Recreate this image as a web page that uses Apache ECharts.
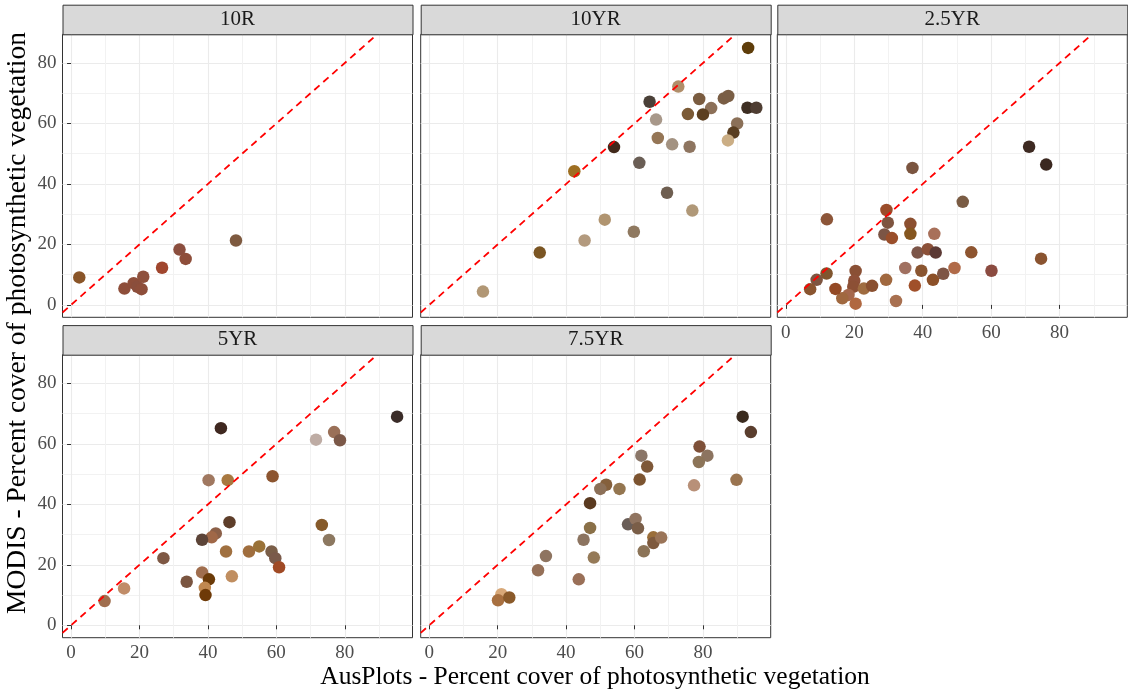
<!DOCTYPE html>
<html>
<head>
<meta charset="utf-8">
<script src="https://cdn.jsdelivr.net/npm/echarts@6/dist/echarts.min.js"></script>
<style>
  html, body { margin: 0; padding: 0; background: #fff; }
  #chart { width: 1128px; height: 697px; }
</style>
</head>
<body>
<div id="chart"></div>
<script>
// facet labels (Munsell hue)
const panels = ['10R', '10YR', '2.5YR', '5YR', '7.5YR']

// axis ranges and breaks
const X_MIN = -2.5, X_MAX = 99.8
const Y_MIN = -4.1, Y_MAX = 89.5
const majorBreaks = [0, 20, 40, 60, 80]
const minorBreaks = [10, 30, 50, 70, 90]

// AusPlots (x), MODIS (y), munsell colour per site
const x10R = [2.4, 15.6, 18.3, 19.4, 20.6, 21.1, 26.6, 31.7, 33.5, 48.2]
const y10R = [9.1, 5.4, 7.2, 6.0, 5.2, 9.3, 12.3, 18.3, 15.2, 21.3]
const c10R = ['#8A5528', '#8E4E3A', '#8E4E3A', '#8A4E3C', '#8E4E3A', '#8E503C', '#A0462E', '#8B4E3E', '#8E4E3A', '#7E5A40']

const x10YR = [93.2, 72.8, 64.4, 78.9, 86.1, 87.4, 82.4, 93.0, 95.6, 75.6, 80.0, 66.3, 90.0, 88.9, 87.3, 66.8, 71.0, 76.1, 54.0, 61.4, 42.4, 69.5, 76.9, 51.3, 59.8, 45.4, 32.3, 15.7]
const y10YR = [85.0, 72.2, 67.2, 68.1, 68.3, 69.1, 65.1, 65.2, 65.2, 63.1, 63.0, 61.3, 60.0, 57.0, 54.4, 55.2, 53.1, 52.3, 52.2, 47.0, 44.2, 37.1, 31.2, 28.2, 24.2, 21.3, 17.3, 4.4]
const c10YR = ['#5E3D0A', '#B08E6A', '#4A4038', '#7A5C40', '#7A5E45', '#7A5E45', '#8C7058', '#3D2E22', '#4F3E33', '#7B5A36', '#5C3F20', '#A8988A', '#8B7058', '#5A3F22', '#CBAE85', '#957656', '#A39281', '#8E7560', '#41291A', '#6A5E55', '#9E6F22', '#6E5E50', '#B09878', '#B09470', '#8F7960', '#B39A7E', '#7A5523', '#B19775']

const x25YR = [71.1, 76.1, 37.0, 51.7, 12.0, 29.4, 29.8, 28.8, 31.0, 36.4, 36.4, 43.4, 38.5, 41.5, 43.8, 54.2, 74.6, 60.1, 49.3, 34.9, 39.6, 46.0, 43.0, 29.3, 37.7, 32.2, 20.4, 20.0, 19.7, 18.3, 16.5, 20.4, 22.8, 25.2, 14.5, 11.9, 9.0, 7.1]
const y25YR = [52.3, 46.4, 45.3, 34.1, 28.3, 31.4, 27.2, 23.3, 22.1, 26.8, 23.5, 23.5, 17.3, 18.4, 17.3, 17.4, 15.3, 11.3, 12.2, 12.2, 11.3, 10.3, 8.3, 8.3, 6.4, 1.3, 11.2, 8.0, 6.0, 3.3, 2.2, 0.4, 5.4, 6.3, 5.3, 10.4, 8.3, 5.2]
const c25YR = ['#3E2A22', '#3B2820', '#7B5540', '#7A5C44', '#8C5538', '#9A4C2A', '#7E5540', '#7C5545', '#9A4E2A', '#8C5030', '#85561F', '#A8705A', '#7C5548', '#8B5038', '#5C3A35', '#8E5530', '#8A5430', '#8B4B40', '#B06A48', '#A07060', '#8A5530', '#7E5545', '#8C5028', '#A0683F', '#A0502A', '#A87050', '#8A5035', '#8E5038', '#8C5035', '#A5684C', '#A0683F', '#B06840', '#9F6C40', '#8A5030', '#944A25', '#80552E', '#7E5540', '#8A5530']

const x5YR = [95.3, 43.8, 76.9, 78.6, 71.6, 58.9, 40.2, 45.8, 46.3, 73.3, 75.4, 42.3, 41.1, 38.3, 27.0, 45.3, 52.0, 55.0, 58.6, 59.7, 60.8, 38.3, 40.3, 33.8, 47.0, 39.1, 39.3, 15.5, 9.8]
const y5YR = [69.0, 65.2, 63.9, 61.2, 61.4, 49.3, 48.0, 48.0, 34.1, 33.2, 28.2, 30.4, 29.1, 28.3, 22.2, 24.4, 24.4, 26.1, 24.4, 22.2, 19.2, 17.5, 15.2, 14.4, 16.2, 12.4, 10.0, 12.2, 8.0]
const c5YR = ['#3A2C28', '#3F2820', '#9A7058', '#7B5848', '#BEACA4', '#8C5530', '#A07860', '#A87840', '#5E3E2A', '#865A2A', '#8C7860', '#8C6048', '#A06848', '#5C4438', '#7E5844', '#A07040', '#A06E3E', '#9A7238', '#7A5E48', '#7A5A4A', '#A04A25', '#A06E4E', '#6B3A08', '#7A5540', '#C08E60', '#C08850', '#6E3A08', '#C08C68', '#A06E4E']

const x75YR = [91.6, 94.0, 79.0, 81.3, 78.8, 77.4, 89.8, 62.0, 63.7, 61.5, 51.7, 50.0, 55.6, 47.0, 58.1, 60.3, 61.0, 47.0, 45.1, 65.5, 65.5, 67.8, 62.7, 48.1, 34.1, 31.8, 43.7, 21.1, 20.1, 23.4]
const y75YR = [69.0, 63.9, 59.1, 56.1, 54.0, 46.3, 48.1, 56.1, 52.5, 48.2, 46.5, 45.1, 45.1, 40.4, 33.4, 35.2, 32.1, 32.2, 28.3, 29.1, 27.2, 29.0, 24.5, 22.4, 22.9, 18.2, 15.2, 10.3, 8.3, 9.2]
const c75YR = ['#3A2A1E', '#5A3E2E', '#7E5038', '#8C7460', '#8C7458', '#B89078', '#9A7450', '#8A7668', '#7E5838', '#7C5430', '#85603C', '#8C7058', '#947650', '#5A3A20', '#6A5E58', '#907460', '#7A5E48', '#8A7048', '#8C7460', '#9A6E3A', '#7E5A3E', '#9A7458', '#8C7458', '#957A58', '#8E7460', '#957058', '#9A7058', '#D8A878', '#A87040', '#8A5A2A']

const xs = [x10R, x10YR, x25YR, x5YR, x75YR]
const ys = [y10R, y10YR, y25YR, y5YR, y75YR]
const cols = [c10R, c10YR, c25YR, c5YR, c75YR]

// layout of the facets (px)
const colLeft = [62.5, 420.7, 777.3]
const rowTop = [34.3, 354.7]
const panelW = 350, panelH = 283, stripH = 29.6
const showXLab = [false, false, true, true, true]
const showYLab = [true, false, false, true, false]
const FONT = 'Liberation Serif'

let grids = [], xAxes = [], yAxes = [], series = [], graphics = []

panels.forEach((name, i) => {
  const left = colLeft[i % 3]
  const top = rowTop[Math.floor(i / 3)]
  grids.push({
    left: left, top: top, width: panelW, height: panelH,
    show: true, borderColor: '#333', borderWidth: 1, backgroundColor: '#fff'
  })
  // main axes: major grid, ticks, labels
  xAxes.push({
    type: 'value', gridIndex: i, min: X_MIN, max: X_MAX,
    axisLine: {show: false},
    axisTick: {show: showXLab[i], length: 4, lineStyle: {color: '#333'}, customValues: majorBreaks},
    axisLabel: {show: showXLab[i], customValues: majorBreaks, margin: 6, fontSize: 19, color: '#4D4D4D', fontFamily: FONT},
    splitLine: {show: true, lineStyle: {color: '#EBEBEB', width: 1.1}}
  })
  yAxes.push({
    type: 'value', gridIndex: i, min: Y_MIN, max: Y_MAX,
    axisLine: {show: false},
    axisTick: {show: showYLab[i], length: 4, lineStyle: {color: '#333'}, customValues: majorBreaks},
    axisLabel: {show: showYLab[i], customValues: majorBreaks, margin: 6, fontSize: 19, color: '#4D4D4D', fontFamily: FONT},
    splitLine: {show: true, lineStyle: {color: '#EBEBEB', width: 1.1}}
  })
  // second pair only for the minor grid
  xAxes.push({
    type: 'value', gridIndex: i, min: X_MIN, max: X_MAX,
    axisLine: {show: false}, axisLabel: {show: false},
    axisTick: {show: false, customValues: minorBreaks},
    splitLine: {show: true, lineStyle: {color: '#F2F2F2', width: 1}}
  })
  yAxes.push({
    type: 'value', gridIndex: i, min: Y_MIN, max: Y_MAX,
    axisLine: {show: false}, axisLabel: {show: false},
    axisTick: {show: false, customValues: minorBreaks},
    splitLine: {show: true, lineStyle: {color: '#F2F2F2', width: 1}}
  })

  const c = cols[i]
  series.push({
    type: 'scatter', xAxisIndex: 2 * i, yAxisIndex: 2 * i,
    data: xs[i].map((v, k) => [v, ys[i][k]]),
    symbolSize: 12.5,
    itemStyle: {color: p => c[p.dataIndex], opacity: 1},
    z: 2, silent: true
  })
  // 1:1 line
  series.push({
    type: 'line', xAxisIndex: 2 * i, yAxisIndex: 2 * i,
    data: [[X_MIN, X_MIN], [Y_MAX, Y_MAX]],
    symbol: 'none', clip: true, silent: true,
    lineStyle: {color: '#FF0000', width: 1.8, type: [7, 5]},
    z: 3
  })

  // strip
  graphics.push({
    type: 'rect', left: left, top: top - stripH, z: 10,
    shape: {width: panelW, height: stripH},
    style: {fill: '#D9D9D9', stroke: '#333', lineWidth: 1}
  })
  graphics.push({
    type: 'text', x: left + panelW / 2, y: top - stripH / 2, z: 11,
    style: {text: name, font: '21px "Liberation Serif"', fill: '#1A1A1A', textAlign: 'center', textVerticalAlign: 'middle'}
  })
})

// axis titles
graphics.push({
  type: 'text', x: 595, y: 677, z: 11,
  style: {text: 'AusPlots - Percent cover of photosynthetic vegetation', font: '25.5px "Liberation Serif"', fill: '#000', textAlign: 'center', textVerticalAlign: 'middle'}
})
graphics.push({
  type: 'text', x: 18, y: 323, rotation: Math.PI / 2, z: 11,
  style: {text: 'MODIS - Percent cover of photosynthetic vegetation', font: '27.5px "Liberation Serif"', fill: '#000', textAlign: 'center', textVerticalAlign: 'middle'}
})

const chart = echarts.init(document.getElementById('chart'))
chart.setOption({
  animation: false,
  backgroundColor: '#fff',
  grid: grids,
  xAxis: xAxes,
  yAxis: yAxes,
  series: series,
  graphic: graphics
})
</script>
</body>
</html>
